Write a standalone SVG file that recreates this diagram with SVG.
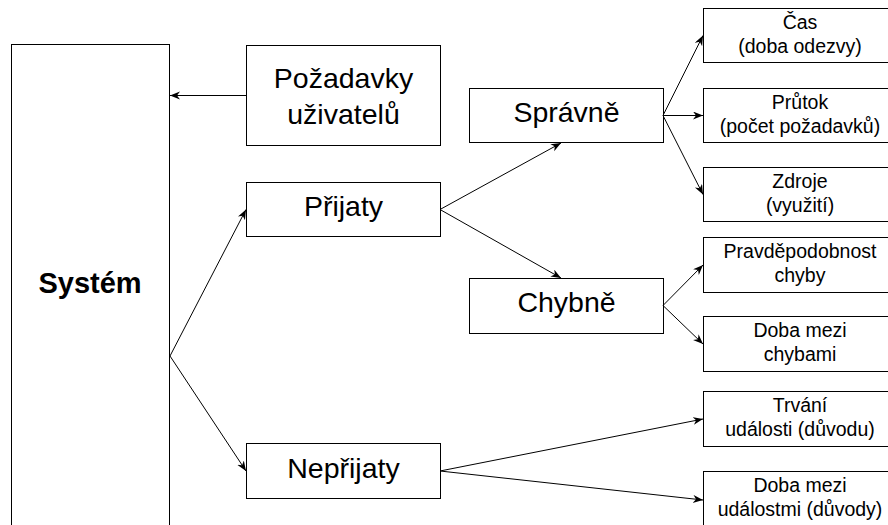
<svg xmlns="http://www.w3.org/2000/svg" width="888" height="525" viewBox="0 0 888 525">
<style>
.box{fill:#fff;stroke:#000;stroke-width:1}
.t{font-family:"Liberation Sans",Arial,sans-serif;fill:#000;text-anchor:middle}
.big{font-size:28.5px}
.sm{font-size:19.5px}
.edge{fill:none;stroke:#000;stroke-width:1;marker-end:url(#ah)}
</style>
<defs>
<marker id="ah" markerWidth="12" markerHeight="10" refX="10" refY="4" orient="auto" markerUnits="userSpaceOnUse">
<path d="M0,0 L10,4 L0,8 L3,4 Z" fill="#000"/>
</marker>
</defs>
<g id="system">
<rect class="box" x="11.5" y="44.5" width="158" height="500"/>
<text class="t" x="90" y="293" style="font-size:29px;font-weight:bold">Systém</text>
</g>
<g id="pozadavky">
<rect class="box" x="246.5" y="45.5" width="194" height="100"/>
<text class="t big" x="343.5" y="88">Požadavky</text>
<text class="t big" x="343.5" y="124">uživatelů</text>
</g>
<g id="prijaty">
<rect class="box" x="246.5" y="182.5" width="194" height="54"/>
<text class="t big" x="343.5" y="216">Přijaty</text>
</g>
<g id="neprijaty">
<rect class="box" x="246.5" y="443.5" width="194" height="55"/>
<text class="t big" x="343.5" y="478">Nepřijaty</text>
</g>
<g id="spravne">
<rect class="box" x="469.5" y="88.5" width="194" height="54"/>
<text class="t big" x="566.5" y="122">Správně</text>
</g>
<g id="chybne">
<rect class="box" x="469.5" y="278.5" width="194" height="55"/>
<text class="t big" x="566.5" y="312">Chybně</text>
</g>
<g id="cas">
<rect class="box" x="703.5" y="8.5" width="194" height="54"/>
<text class="t sm" x="800" y="29">Čas</text>
<text class="t sm" x="800" y="53">(doba odezvy)</text>
</g>
<g id="prutok">
<rect class="box" x="703.5" y="88.5" width="194" height="54"/>
<text class="t sm" x="800" y="109">Průtok</text>
<text class="t sm" x="800" y="133">(počet požadavků)</text>
</g>
<g id="zdroje">
<rect class="box" x="703.5" y="167.5" width="194" height="54"/>
<text class="t sm" x="800" y="188">Zdroje</text>
<text class="t sm" x="800" y="212">(využití)</text>
</g>
<g id="pravdepodobnost">
<rect class="box" x="703.5" y="237.5" width="194" height="55"/>
<text class="t sm" x="800" y="258">Pravděpodobnost</text>
<text class="t sm" x="800" y="282">chyby</text>
</g>
<g id="doba-chyby">
<rect class="box" x="703.5" y="316.5" width="194" height="55"/>
<text class="t sm" x="800" y="337">Doba mezi</text>
<text class="t sm" x="800" y="361">chybami</text>
</g>
<g id="trvani">
<rect class="box" x="703.5" y="391.5" width="194" height="55"/>
<text class="t sm" x="800" y="412">Trvání</text>
<text class="t sm" x="800" y="436">události (důvodu)</text>
</g>
<g id="doba-udalosti">
<rect class="box" x="703.5" y="471.5" width="194" height="60"/>
<text class="t sm" x="800" y="492">Doba mezi</text>
<text class="t sm" x="800" y="516">událostmi (důvody)</text>
</g>
<g id="connectors">
<path class="edge" d="M246,95.5 L170,95.5"/>
<path class="edge" d="M170,356 L246,209.5"/>
<path class="edge" d="M170,356 L246,471"/>
<path class="edge" d="M440,209.5 L561,143"/>
<path class="edge" d="M440,209.5 L561,278"/>
<path class="edge" d="M663,115.5 L703,35.5"/>
<path class="edge" d="M663,115.5 L703,115.5"/>
<path class="edge" d="M663,115.5 L703,194.5"/>
<path class="edge" d="M663,305.5 L703,265"/>
<path class="edge" d="M663,305.5 L703,344"/>
<path class="edge" d="M440,471 L703,419"/>
<path class="edge" d="M440,471 L703,500"/>
</g>
</svg>
